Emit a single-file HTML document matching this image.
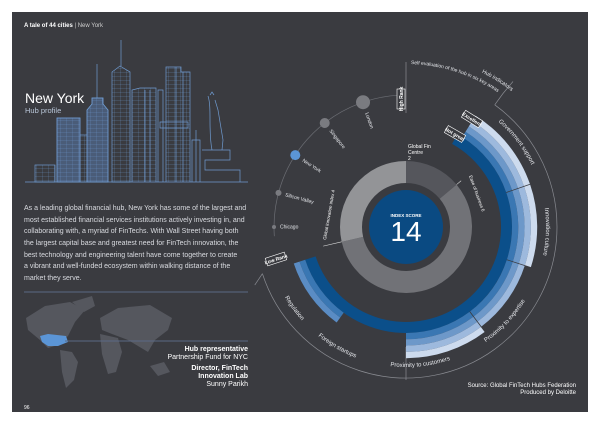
<!DOCTYPE html>
<html><head><meta charset="utf-8"><style>
html,body{margin:0;padding:0;background:#fff;width:600px;height:424px;overflow:hidden}
svg{display:block;font-family:"Liberation Sans",sans-serif}
</style></head><body>
<svg id="s" width="600" height="424" viewBox="0 0 600 424" xmlns="http://www.w3.org/2000/svg">
<defs>
<pattern id="hl" width="6" height="4" patternUnits="userSpaceOnUse"><path d="M0 0H6M0 0V4" stroke="#6f9bd0" stroke-width="0.4"/></pattern>
</defs>
<rect x="12" y="12" width="576" height="400" fill="#3a3b40"/>
<text x="24" y="27" font-size="6" fill="#fff"><tspan font-weight="bold">A tale of 44 cities</tspan><tspan fill="#ccc"> | New York</tspan></text>
<g stroke="#6f9bd0" stroke-width="0.7" fill="none">
<path d="M25 182H248"/>
<rect x="35" y="165" width="20" height="17" fill="url(#hl)"/>
<rect x="57" y="118" width="23" height="64" fill="#4a5c78"/>
<rect x="57" y="118" width="23" height="64" fill="url(#hl)"/>
<rect x="80" y="135" width="8" height="47" fill="url(#hl)"/>
<path d="M87 182V110L92 104V98H103V104L108 110V182Z" fill="#4a5c78"/>
<path d="M87 182V110L92 104V98H103V104L108 110V182Z" fill="url(#hl)"/>
<path d="M97 98V64"/>
<path d="M112 182V72L120 66L130 72V182Z" fill="url(#hl)"/>
<path d="M121 66V40"/>
<path d="M132 182V90L140 88H156V182" fill="url(#hl)"/>
<path d="M145 90V182M150 90V182"/>
<path d="M158 182V90H163V182"/>
<path d="M166 182V67H181V72H190V182" fill="url(#hl)"/>
<path d="M176 67V182M183 72V182"/>
<path d="M160 122H188V128H160Z"/>
<path d="M192 182V140H200V182M196 130V182"/>
<path d="M212 150C208 130 212 108 208 96M215 100L218 110L223 140L222 150M202 150H230V160H205V170H240V182" />
<path d="M210 95L212 92L214 95"/>
</g>
<text x="25" y="103" font-size="14" fill="#fff">New York</text>
<text x="25" y="113" font-size="7.5" fill="#b9c6d8">Hub profile</text>
<g font-size="7" fill="#d9dbe0">
<text x="24" y="210">As a leading global financial hub, New York has some of the largest and</text>
<text x="24" y="222">most established financial services institutions actively investing in, and</text>
<text x="24" y="233">collaborating with, a myriad of FinTechs. With Wall Street having both</text>
<text x="24" y="245">the largest capital base and greatest need for FinTech innovation, the</text>
<text x="24" y="257">best technology and engineering talent have come together to create</text>
<text x="24" y="268">a vibrant and well-funded ecosystem within walking distance of the</text>
<text x="24" y="280">market they serve.</text>
</g>
<path d="M24 292H248" stroke="#5a6a85" stroke-width="1"/>
<g fill="#55575e">
<path d="M26 318L45 306L70 302L85 310L75 322L68 336L58 345L48 348L40 340L28 330Z"/>
<path d="M72 302L92 296L95 306L84 312Z"/>
<path d="M60 350L72 352L78 362L74 380L66 388L62 372Z"/>
<path d="M100 318L118 308L150 305L172 318L168 330L155 340L148 352L138 346L128 340L112 334L102 330Z"/>
<path d="M100 334L118 338L122 352L116 372L108 374L102 354Z"/>
<path d="M150 366L164 362L170 372L158 376Z"/>
</g>
<path d="M40 336L48 334L66 336L68 342L58 346L48 346L42 342Z" fill="#5b95d6"/>
<path d="M65 341H248" stroke="#5a6a85" stroke-width="1"/>
<g font-size="7" fill="#fff" text-anchor="end">
<text x="248" y="351" font-weight="bold">Hub representative</text>
<text x="248" y="359">Partnership Fund for NYC</text>
<text x="248" y="370" font-weight="bold">Director, FinTech</text>
<text x="248" y="378" font-weight="bold">Innovation Lab</text>
<text x="248" y="386">Sunny Parikh</text>
</g>
<text x="24" y="409" font-size="5" fill="#fff">96</text>
<g font-size="6" fill="#fff" text-anchor="end">
<text x="576" y="387">Source: Global FinTech Hubs Federation</text>
<text x="576" y="394">Produced by Deloitte</text>
</g>
<g id="chart"></g>
</svg>
<script>
var cx=406,cy=227,ns="http://www.w3.org/2000/svg",g=document.getElementById('chart');
function rad(a){return a*Math.PI/180}
function pt(r,a){return [cx+r*Math.sin(rad(a)),cy-r*Math.cos(rad(a))]}
function ring(r1,r2,a1,a2,fill){var p1=pt(r2,a1),p2=pt(r2,a2),p3=pt(r1,a2),p4=pt(r1,a1),l=(a2-a1)>180?1:0;
add('path',{d:'M'+p1+'A'+r2+' '+r2+' 0 '+l+' 1 '+p2+'L'+p3+'A'+r1+' '+r1+' 0 '+l+' 0 '+p4+'Z',fill:fill});}
function arc(r,a1,a2,ccw){var p1=pt(r,ccw?a2:a1),p2=pt(r,ccw?a1:a2),l=(a2-a1)>180?1:0;return 'M'+p1+'A'+r+' '+r+' 0 '+l+' '+(ccw?0:1)+' '+p2;}
function add(t,at,txt,parent){var e=document.createElementNS(ns,t);for(var k in at)e.setAttribute(k,at[k]);if(txt)e.textContent=txt;(parent||g).appendChild(e);return e;}
var id=0;
function curved(txt,r,a1,a2,ccw,size,fill){var i='p'+(id++);add('path',{id:i,d:arc(r,a1,a2,ccw),fill:'none'});var t=add('text',{'font-size':size||6,fill:fill||'#e6e8ec'});add('textPath',{href:'#'+i,startOffset:'50%','text-anchor':'middle'},txt,t);}
add('path',{d:arc(151,36,252,false),fill:'none',stroke:'#8a8c92','stroke-width':0.7});
add('path',{d:'M'+pt(151,36)+'L'+pt(165,36)+'L'+[pt(165,36)[0]+10,pt(165,36)[1]-12],fill:'none',stroke:'#8a8c92','stroke-width':0.7});
add('path',{d:'M'+pt(151,252)+'L'+pt(162,249),fill:'none',stroke:'#8a8c92','stroke-width':0.7});
add('path',{d:'M406 62V113',stroke:'#8a8c92','stroke-width':0.7});
add('path',{d:'M406 347V380',stroke:'#8a8c92','stroke-width':0.7});
add('path',{d:arc(132,266,357,false),fill:'none',stroke:'#6b6d73','stroke-width':0.7});
[[341,7,'#7a7b80','London'],[322,5,'#7a7b80','Singapore'],[303,5,'#5b95d6','New York'],[285,3,'#7a7b80','Silicon Valley'],[270,2,'#7a7b80','Chicago']].forEach(function(c){
var p=pt(132,c[0]);add('circle',{cx:p[0],cy:p[1],r:c[1],fill:c[2]});
var q=pt(132-c[1]-4,c[0]);var ang=c[0]-270;add('text',{x:q[0],y:q[1]+1.5,'font-size':5,fill:'#e6e8ec',transform:'rotate('+(ang)+' '+q[0]+' '+q[1]+')'},c[3]);});
ring(44,66,0,50,'#55565c');ring(44,66,50,257,'#717277');ring(44,66,257,360,'#939497');
add('circle',{cx:cx,cy:cy,r:37,fill:'#0a4a82'});
add('text',{x:cx,y:cy-10,'font-size':4.5,fill:'#fff','text-anchor':'middle','font-weight':'bold'},'INDEX SCORE');
add('text',{x:cx,y:cy+14,'font-size':28,fill:'#fff','text-anchor':'middle','font-weight':'300'},'14');
var cols=['#0b4f8a','#3a77b3','#6d98c9','#9db9dd','#cddbee'];
ring(95,106,29,252,'#0b4f8a');
function seg(a1,a2,n){var r=106;for(var i=1;i<=n;i++){ring(r,r+6.3,a1,a2,cols[i]);r+=6.3;}}
seg(32,71,4);seg(71,108,4);seg(108,143,3);seg(143,180,4);
ring(106,112,216,252,'#3a77b3');ring(112,118,216,252,'#5a8cc4');
[71,108,143].forEach(function(a){add('path',{d:'M'+pt(106,a)+'L'+pt(134,a),stroke:'#3a3b40','stroke-width':0.8});});
curved('Government support',140,30,75,false,6);
curved('Innovation culture',140,72,112,false,6);
curved('Proximity to expertise',140,112,155,true,6);
curved('Proximity to customers',140,148,200,true,6);
curved('Foreign startups',140,185,235,true,6);
curved('Regulation',140,218,250,true,6);
curved('Self evaluation of the hub in six key areas',163,1,35,false,5);
curved('Hub indicators',172,24,40,false,5.5);
function box(txt,x,y,rot,w){var gg=add('g',{transform:'translate('+x+' '+y+') rotate('+rot+')'});add('rect',{x:-w/2,y:-4,width:w,height:8,fill:'#3a3b40',stroke:'#fff','stroke-width':0.6},null,gg);add('text',{x:0,y:2,'font-size':5,fill:'#fff','text-anchor':'middle','font-weight':'bold'},txt,gg);}
box('High Rank',401,99,-90,20);box('Excellent',472,119,32,20);box('Not great',455,134,30,20);box('Low Rank',276,259,-18,20);
add('text',{x:408,y:148,'font-size':5,fill:'#fff'},'Global Fin');
add('text',{x:408,y:154,'font-size':5,fill:'#fff'},'Centre');
add('text',{x:408,y:160,'font-size':5,fill:'#fff'},'2');
add('text',{x:0,y:0,'font-size':4.5,fill:'#fff',transform:'translate(469 176) rotate(70)'},'Ease of business 6');
add('text',{x:0,y:0,'font-size':4.5,fill:'#fff',transform:'translate(326 240) rotate(-80)'},'Global innovation index 4');
add('path',{d:'M'+pt(66,257)+'L'+pt(85,257),stroke:'#ddd','stroke-width':0.6});
add('path',{d:'M'+pt(66,50)+'L'+pt(72,50),stroke:'#ddd','stroke-width':0.6});
</script>
</body></html>
